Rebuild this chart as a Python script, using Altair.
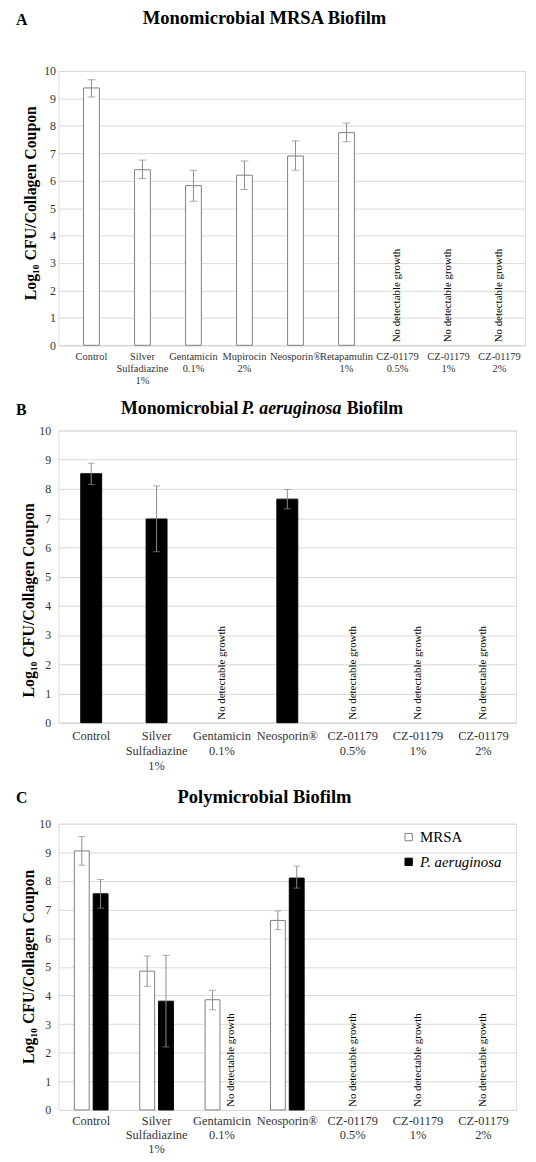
import altair as alt
import pandas as pd

FONT = "Liberation Serif"
GRID = "#d9d9d9"
ERR = "#8c8c8c"
YTITLE = "Log₁₀ CFU/Collagen Coupon"
NOGROWTH = "No detectable growth"
YTICKS = [0, 1, 2, 3, 4, 5, 6, 7, 8, 9, 10]

# ---------------- Panel A data ----------------
a_cats = ["Control", "Silver|Sulfadiazine|1%", "Gentamicin|0.1%", "Mupirocin|2%",
          "Neosporin®", "Retapamulin|1%", "CZ-01179|0.5%", "CZ-01179|1%", "CZ-01179|2%"]
a_mean = [9.38, 6.40, 5.82, 6.20, 6.90, 7.75, None, None, None]
a_lo = [9.05, 6.08, 5.25, 5.68, 6.38, 7.42, None, None, None]
a_hi = [9.68, 6.75, 6.38, 6.72, 7.45, 8.10, None, None, None]
a_title = ["Monomicrobial MRSA Biofilm"]
a_letter = ["A"]

# ---------------- Panel B data ----------------
b_cats = ["Control", "Silver|Sulfadiazine|1%", "Gentamicin|0.1%", "Neosporin®",
          "CZ-01179|0.5%", "CZ-01179|1%", "CZ-01179|2%"]
b_mean = [8.52, 6.97, None, 7.65, None, None, None]
b_lo = [8.15, 5.85, None, 7.32, None, None, None]
b_hi = [8.88, 8.10, None, 7.98, None, None, None]
b_title = ["Monomicrobial", "P. aeruginosa", "Biofilm"]
b_letter = ["B"]

# ---------------- Panel C data ----------------
c_cats = b_cats
c_series = ["MRSA", "P. aeruginosa"]
c_mrsa_mean = [9.05, 4.85, 3.85, 6.62, None, None, None]
c_mrsa_lo = [8.55, 4.32, 3.50, 6.30, None, None, None]
c_mrsa_hi = [9.55, 5.38, 4.18, 6.95, None, None, None]
c_pa_mean = [7.55, 3.80, None, 8.10, None, None, None]
c_pa_lo = [7.05, 2.20, None, 7.75, None, None, None]
c_pa_hi = [8.05, 5.40, None, 8.52, None, None, None]
c_title = ["Polymicrobial Biofilm"]
c_letter = ["C"]


def y_axis(title_y, label_pad, title_pad):
    return alt.Axis(title=YTITLE, values=YTICKS, titleFont=FONT, titleFontSize=16,
                    titleFontWeight="bold", titleColor="black", labelFont=FONT,
                    labelFontSize=12, labelColor="#333333", labelPadding=label_pad,
                    titlePadding=title_pad, domain=False, ticks=False, gridColor=GRID,
                    labelOverlap=False, titleY=title_y)


def x_axis(fs, lh, pad):
    return alt.Axis(title=None, labelAngle=0, labelExpr="split(datum.label, '|')",
                    labelFont=FONT, labelFontSize=fs, labelLineHeight=lh, labelColor="#333333",
                    labelPadding=pad, labelBaseline="top", labelOverlap=False, labelLimit=0,
                    ticks=False, domainColor=GRID, grid=False)


def ys():
    return alt.Scale(domain=[0, 10], nice=False)


def text_mark(values, size, x, y, align="left", style="normal"):
    return alt.Chart(pd.DataFrame({"t": values})).mark_text(
        font=FONT, fontSize=size, fontWeight="bold", fontStyle=style, align=align,
        baseline="top", color="black").encode(text="t:N", x=alt.value(x), y=alt.value(y))


def single_panel(cats, mean, lo, hi, fill, stroke, bar_frac, yaxis, xaxis, xscale, cap):
    df = pd.DataFrame({"cat": cats, "mean": mean, "lo": lo, "hi": hi})
    ng = pd.DataFrame({"cat": [c for c, m in zip(cats, mean) if m is None]})
    ng["t"] = NOGROWTH
    ng["base"] = 0
    x = alt.X("cat:N", sort=cats, scale=xscale, axis=xaxis)
    base = alt.Chart(df)
    bars = base.mark_bar(fill=fill, stroke=stroke, strokeWidth=1,
                         width=alt.RelativeBandSize(bar_frac)).encode(
        x=x, y=alt.Y("mean:Q", scale=ys(), axis=yaxis))
    rule = base.mark_rule(color=ERR, strokeWidth=1).encode(
        x=x, y=alt.Y("lo:Q", scale=ys(), axis=yaxis), y2="hi:Q")
    t1 = base.mark_tick(color=ERR, orient="horizontal", size=cap, thickness=1).encode(
        x=x, y=alt.Y("lo:Q", scale=ys(), axis=yaxis))
    t2 = base.mark_tick(color=ERR, orient="horizontal", size=cap, thickness=1).encode(
        x=x, y=alt.Y("hi:Q", scale=ys(), axis=yaxis))
    txt = alt.Chart(ng).mark_text(angle=270, align="left", baseline="middle", font=FONT,
                                  fontSize=11, color="black", dx=3).encode(
        x=alt.X("cat:N", sort=cats, scale=xscale, axis=xaxis),
        y=alt.Y("base:Q", scale=ys(), axis=yaxis), text="t:N")
    return bars, rule, t1, t2, txt


# ---------------- Panel A ----------------
WA, HA = 471, 277
xsA = alt.Scale(paddingInner=0, paddingOuter=0.0728, align=1)
parts = single_panel(a_cats, a_mean, a_lo, a_hi, "white", "#7f7f7f", 0.31,
                     y_axis(133, 3, 5), x_axis(10.5, 12.5, 6), xsA, 8)
titleA = text_mark(a_title, 18.7, 208, -62, align="center")
letterA = text_mark(a_letter, 16, -43, -59)
chartA = alt.layer(*parts, titleA, letterA).properties(width=WA, height=HA)

# ---------------- Panel B ----------------
WB, HB = 462, 295
xsB = alt.Scale(paddingInner=0, paddingOuter=0)
parts = single_panel(b_cats, b_mean, b_lo, b_hi, "black", "black", 0.32,
                     y_axis(171, 8, 2), x_axis(12.5, 15, 7), xsB, 7)
tb1 = text_mark([b_title[0]], 18, 63, -31, align="left")
tb2 = text_mark([b_title[1]], 18, 185, -31, align="left", style="italic")
tb3 = text_mark([b_title[2]], 18, 291, -31, align="left")
letterB = text_mark(b_letter, 16, -43, -29)
chartB = alt.layer(*parts, tb1, tb2, tb3, letterB).properties(width=WB, height=HB)

# ---------------- Panel C ----------------
WC, HC = 462, 289
rows = []
for i, c in enumerate(c_cats):
    rows.append({"cat": c, "series": "MRSA", "mean": c_mrsa_mean[i], "lo": c_mrsa_lo[i], "hi": c_mrsa_hi[i]})
    rows.append({"cat": c, "series": "P. aeruginosa", "mean": c_pa_mean[i], "lo": c_pa_lo[i], "hi": c_pa_hi[i]})
dfc = pd.DataFrame(rows)
yaxC = y_axis(144, 8, 2)
xc = alt.X("cat:N", sort=c_cats, scale=alt.Scale(paddingInner=0, paddingOuter=0),
           axis=x_axis(12.5, 14, 5))
xo = alt.XOffset("series:N", sort=c_series, scale=alt.Scale(paddingInner=0.21, paddingOuter=0.842))
legend = alt.Legend(title=None, orient="none", legendX=346, legendY=6, symbolType="square",
                    symbolSize=55, labelFont=FONT, labelFontSize=15, labelColor="black",
                    rowPadding=9, symbolStrokeWidth=1,
                    labelFontStyle=alt.ExprRef("datum.label == 'P. aeruginosa' ? 'italic' : 'normal'"))
basec = alt.Chart(dfc)
barsC = basec.mark_bar(strokeWidth=1).encode(
    x=xc, xOffset=xo,
    y=alt.Y("mean:Q", scale=ys(), axis=yaxC),
    fill=alt.Fill("series:N", sort=c_series, scale=alt.Scale(domain=c_series, range=["white", "black"]), legend=legend),
    stroke=alt.Stroke("series:N", sort=c_series, scale=alt.Scale(domain=c_series, range=["#7f7f7f", "black"]), legend=legend),
)
ruleC = basec.mark_rule(color=ERR, strokeWidth=1).encode(
    x=xc, xOffset=xo, y=alt.Y("lo:Q", scale=ys(), axis=yaxC), y2="hi:Q")
tc1 = basec.mark_tick(color=ERR, orient="horizontal", size=7, thickness=1).encode(
    x=xc, xOffset=xo, y=alt.Y("lo:Q", scale=ys(), axis=yaxC))
tc2 = basec.mark_tick(color=ERR, orient="horizontal", size=7, thickness=1).encode(
    x=xc, xOffset=xo, y=alt.Y("hi:Q", scale=ys(), axis=yaxC))
ng_pair = pd.DataFrame({"cat": ["Gentamicin|0.1%"], "series": ["P. aeruginosa"], "t": [NOGROWTH], "base": [0]})
ng_full = pd.DataFrame({"cat": [c for i, c in enumerate(c_cats) if c_mrsa_mean[i] is None and c_pa_mean[i] is None]})
ng_full["t"] = NOGROWTH
ng_full["base"] = 0
txtC1 = alt.Chart(ng_pair).mark_text(angle=270, align="left", baseline="middle", font=FONT,
                                     fontSize=11, color="black", dx=3).encode(
    x=xc, xOffset=xo, y=alt.Y("base:Q", scale=ys(), axis=yaxC), text="t:N")
txtC2 = alt.Chart(ng_full).mark_text(angle=270, align="left", baseline="middle", font=FONT,
                                     fontSize=11, color="black", dx=3).encode(
    x=xc, y=alt.Y("base:Q", scale=ys(), axis=yaxC), text="t:N")
titleC = text_mark(c_title, 18.7, 208, -35.5, align="center")
letterC = text_mark(c_letter, 16, -43, -34)
chartC = alt.layer(barsC, ruleC, tc1, tc2, txtC1, txtC2, titleC, letterC).properties(width=WC, height=HC)

top = alt.vconcat(chartA, chartB, spacing=12)
chart = alt.vconcat(top, chartC, spacing=16).resolve_scale(
    fill="independent", stroke="independent").resolve_legend(
    fill="independent", stroke="independent").properties(
    padding={"left": 7, "top": -5, "right": 2, "bottom": 0}).configure_view(
    stroke=None, strokeWidth=0).configure(background="white")

chart.save("out.html", embed_options={"renderer": "svg", "actions": False})
